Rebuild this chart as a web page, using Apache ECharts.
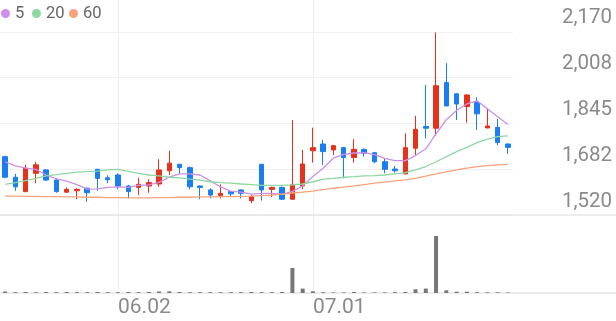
<!DOCTYPE html>
<html><head><meta charset="utf-8">
<script src="https://cdn.jsdelivr.net/npm/echarts@6/dist/echarts.min.js"></script>
<style>html,body{margin:0;padding:0;background:#fff}#c{width:616px;height:321px}</style>
</head><body><div id="c"></div>
<script>
const dates = ['05.16','05.19','05.20','05.21','05.22','05.23','05.26','05.27','05.28','05.29','05.30',
  '06.02','06.04','06.05','06.09','06.10','06.11','06.12','06.13','06.16','06.17','06.18','06.19','06.20',
  '06.23','06.24','06.25','06.26','06.27','06.30','07.01','07.02','07.03','07.04','07.07','07.08','07.09',
  '07.10','07.11','07.14','07.15','07.16','07.17','07.18','07.21','07.22','07.23','07.24','07.25','07.28'];
const opens  = [1727,1654,1603,1668,1680,1644,1601,1606,1615,1682,1652,1662,1623,1618,1623,1630,1677,1700,1688,1623,1609,1589,1603,1609,1571,1700,1611,1618,1576,1623,1748,1772,1751,1759,1724,1753,1741,1709,1683,1666,1757,1834,1828,1990,1950,1905,1919,1829,1831,1772];
const closes = [1654,1620,1686,1698,1644,1603,1611,1611,1599,1650,1645,1623,1603,1629,1635,1680,1704,1688,1620,1618,1591,1597,1595,1597,1585,1609,1618,1576,1627,1701,1759,1745,1766,1724,1753,1739,1709,1682,1677,1759,1824,1828,1979,1907,1914,1946,1879,1836,1777,1760];
const highs  = [1730,1666,1698,1709,1683,1650,1618,1615,1618,1684,1661,1668,1627,1652,1647,1718,1748,1701,1692,1625,1615,1629,1605,1611,1591,1701,1620,1621,1857,1751,1830,1786,1769,1762,1789,1756,1744,1721,1694,1810,1872,1982,2168,2059,1952,1948,1938,1899,1861,1774];
const lows   = [1650,1606,1601,1633,1641,1599,1600,1576,1567,1606,1633,1611,1579,1591,1599,1620,1662,1666,1611,1576,1579,1579,1585,1579,1562,1571,1583,1573,1575,1611,1706,1698,1733,1650,1706,1727,1704,1668,1670,1664,1733,1792,1801,1906,1857,1848,1822,1828,1768,1737];
const volumes = [15,8,10,8,10,8,10,8,8,10,8,8,10,8,10,15,17,10,8,8,8,8,8,8,10,8,8,10,250,44,17,8,6,6,10,6,6,6,8,10,37,44,570,27,13,13,8,7,7,5];
const ma5  = [1709,1694,1686,1682,1662,1648,1640,1628,1612,1613,1618,1620,1618,1625,1627,1636,1654,1666,1666,1662,1641,1620,1605,1601,1594,1597,1597,1593,1604,1623,1657,1686,1722,1735,1740,1741,1734,1721,1713,1713,1731,1755,1808,1858,1891,1914,1925,1897,1869,1841];
const ma20 = [1629,1635,1642,1650,1659,1663,1668,1672,1674,1676,1680,1682,1675,1668,1662,1659,1654,1652,1647,1644,1638,1635,1633,1630,1628,1625,1625,1625,1627,1630,1638,1647,1650,1654,1656,1659,1660,1662,1666,1670,1680,1692,1709,1727,1745,1760,1777,1789,1798,1801];
const ma60 = [1587,1587,1586,1586,1585,1585,1584,1584,1583,1583,1582,1582,1581,1581,1581,1582,1582,1583,1583,1584,1584,1585,1585,1586,1587,1589,1591,1594,1598,1601,1605,1610,1615,1619,1623,1628,1633,1637,1641,1645,1650,1658,1666,1673,1680,1686,1692,1695,1698,1700];
const xTickLabels = ['06.02','07.01'];
const yTickValues = [1520, 1682.5, 1845, 2007.5, 2170];
const yTickLabels = ['1,520','1,682','1,845','2,008','2,170'];
const maNames = ['5','20','60'];
const maColors = ['#cd90ea','#8fd7a3','#f6a37d'];

const UP = '#e5321c', DOWN = '#1a7ef0';
const candleData = dates.map((d, i) => [opens[i], closes[i], lows[i], highs[i]]);
const font = 'Roboto, sans-serif';
const vSplit = {show: true, alignWithLabel: true, interval: (i, v) => xTickLabels.includes(v), lineStyle: {color: '#eeeeee', width: 1}};
const legendBase = {icon: 'circle', itemWidth: 9, itemHeight: 9, itemGap: 0, top: 5, padding: 0,
  textStyle: {color: '#666', fontSize: 16.5, fontFamily: font}, selectedMode: false};

const chart = echarts.init(document.getElementById('c'), null, {renderer: 'canvas'});
chart.setOption({
  animation: false,
  textStyle: {fontFamily: font},
  legend: [
    Object.assign({left: 1, data: [maNames[0]]}, legendBase),
    Object.assign({left: 32, data: [maNames[1]]}, legendBase),
    Object.assign({left: 69, data: [maNames[2]]}, legendBase)
  ],
  grid: [
    {left: 0, top: 0, width: 513, height: 215},
    {left: 0, top: 215, width: 513, height: 78}
  ],
  xAxis: [
    {type: 'category', data: dates, gridIndex: 0, boundaryGap: true,
     axisLine: {show: false}, axisTick: {show: false}, axisLabel: {show: false}, splitLine: vSplit},
    {type: 'category', data: dates, gridIndex: 1, boundaryGap: true,
     axisLine: {show: false}, axisTick: {show: false},
     axisLabel: {show: true, interval: (i, v) => xTickLabels.includes(v), align: 'left', margin: 4,
                 color: '#8a8a8a', fontSize: 21, fontFamily: font},
     splitLine: vSplit}
  ],
  yAxis: [
    {type: 'value', gridIndex: 0, position: 'right', min: 1520, max: 2283,
     axisLine: {show: false}, axisTick: {show: false, customValues: yTickValues},
     axisLabel: {customValues: yTickValues, formatter: v => yTickLabels[yTickValues.indexOf(v)],
                 align: 'right', verticalAlign: 'bottom', margin: 99, padding: [0, 0, 3, 0],
                 color: '#8a8a8a', fontSize: 20.5, fontFamily: font},
     splitLine: {show: true, lineStyle: {color: '#f0f0f0', width: 1}}},
    {type: 'value', gridIndex: 1, min: 0, max: 780, show: false}
  ],
  graphic: [
    {type: 'line', shape: {x1: 0, y1: 215, x2: 616, y2: 215}, style: {stroke: '#e6e6e6', lineWidth: 1.5}, z: 1},
    {type: 'line', shape: {x1: 0, y1: 293, x2: 616, y2: 293}, style: {stroke: '#e6e6e6', lineWidth: 1.5}, z: 1}
  ],
  series: [
    {type: 'candlestick', name: 'price', xAxisIndex: 0, yAxisIndex: 0, data: candleData, barWidth: 5,
     itemStyle: {color: UP, color0: DOWN, borderColor: UP, borderColor0: DOWN, borderWidth: 1}},
    {type: 'line', name: maNames[0], data: ma5, xAxisIndex: 0, yAxisIndex: 0, showSymbol: false, symbol: 'circle',
     lineStyle: {color: maColors[0], width: 1.3}, itemStyle: {color: maColors[0]}, z: 3},
    {type: 'line', name: maNames[1], data: ma20, xAxisIndex: 0, yAxisIndex: 0, showSymbol: false, symbol: 'circle',
     lineStyle: {color: maColors[1], width: 1.3}, itemStyle: {color: maColors[1]}, z: 3},
    {type: 'line', name: maNames[2], data: ma60, xAxisIndex: 0, yAxisIndex: 0, showSymbol: false, symbol: 'circle',
     lineStyle: {color: maColors[2], width: 1.3}, itemStyle: {color: maColors[2]}, z: 3},
    {type: 'bar', name: 'volume', xAxisIndex: 1, yAxisIndex: 1, data: volumes, barWidth: 4,
     itemStyle: {color: '#777777'}}
  ]
});
</script>
</body></html>
